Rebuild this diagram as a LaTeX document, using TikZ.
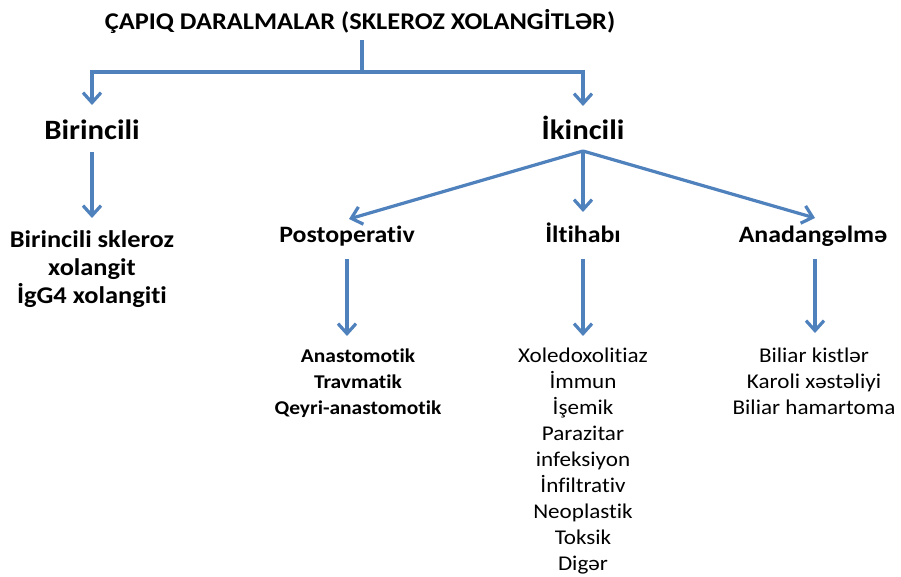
\documentclass[tikz,border=0pt]{standalone}
\usepackage{fontspec}
\setmainfont{Carlito}[FakeStretch=1.1, Ligatures=NoCommon]
\usetikzlibrary{arrows.meta}
\definecolor{arr}{HTML}{4F81BD}
\tikzset{
  conn/.style={draw=arr, line width=3.2pt},
  arrconn/.style={conn, -{Straight Barb[length=10pt,width=18pt,line width=3.2pt]}},
  lbl/.style={inner sep=0pt, align=center, text=black, anchor=base},
  tt/.style={lbl, font=\fontsize{24}{28}\selectfont\bfseries},
  big/.style={lbl, font=\fontsize{28}{32}\selectfont\bfseries},
  mid/.style={lbl, font=\fontsize{23.5}{28}\selectfont\bfseries},
  sub/.style={lbl, font=\fontsize{24}{28}\selectfont\bfseries},
  subb/.style={lbl, font=\fontsize{19.5}{26}\selectfont\bfseries},
  reg/.style={lbl, font=\fontsize{21}{26}\selectfont},
}
\begin{document}
\begin{tikzpicture}[x=1pt,y=-1pt]
\useasboundingbox[fill=white] (0,0) rectangle (901,576);
\node[tt] (title) at (360,29) {ÇAPIQ DARALMALAR (SKLEROZ XOLANGİTLƏR)};
\node[big] (bir) at (92,139) {Birincili};
\node[big] (ikn) at (583,139) {İkincili};
\node[sub] (birl) at (92,303) {Birincili skleroz\\xolangit\\İgG4 xolangiti};
\node[mid] (post) at (347,242) {Postoperativ};
\node[mid] (ilt) at (583,242) {İltihabı};
\node[mid] (ana) at (813,242) {Anadangəlmə};
\node[subb] (postl) at (358,414) {Anastomotik\\Travmatik\\Qeyri-anastomotik};
\node[reg] (iltl) at (583,570) {Xoledoxolitiaz\\İmmun\\İşemik\\Parazitar\\infeksiyon\\İnfiltrativ\\Neoplastik\\Toksik\\Digər};
\node[reg] (anal) at (814,414) {Biliar kistlər\\Karoli xəstəliyi\\Biliar hamartoma};
\coordinate (tj) at (362,72);
\coordinate (fan) at (583,151);
\draw[conn] (362,40) -- (tj);
\draw[arrconn] (tj) -| (92,105);
\draw[arrconn] (tj) -| (583,106);
\draw[arrconn] (92,152) -- (92,218);
\draw[arrconn] (fan) -- (349,219);
\draw[arrconn] (fan) -- (583,212);
\draw[arrconn] (fan) -- (815,218);
\draw[arrconn] (347,259) -- (347,336);
\draw[arrconn] (583,259) -- (583,336);
\draw[arrconn] (815,259) -- (815,333);
\end{tikzpicture}
\end{document}
